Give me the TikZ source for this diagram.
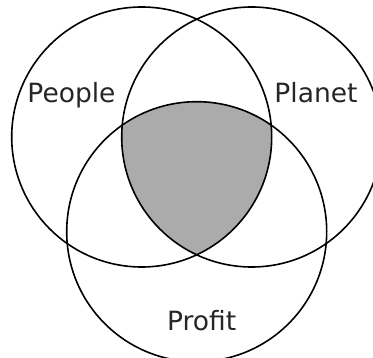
\documentclass[tikz,border=0pt]{standalone}
\usepackage{fontspec}
\setmainfont{DejaVu Sans}
\begin{document}
\begin{tikzpicture}[x=1pt,y=-1pt,
    ring/.style={circle, draw=black, line width=1.6pt, minimum size=260pt, inner sep=0pt},
    word/.style={text=black!85, font=\fontsize{26.5}{29}\selectfont}]
  \useasboundingbox (0,0) rectangle (373,358);

  % Shaded centre
  \begin{scope}
    \clip (141.7,137) circle (130);
    \clip (251.7,137) circle (130);
    \fill[black!33] (196.7,231.7) circle (130);
  \end{scope}

  % Nodes
  \node (people) at (141.7,137) [ring] {};
  \node (planet) at (251.7,137) [ring] {};
  \node (profit) at (196.7,231.7) [ring] {};

  \node (peopletext) at (71.5,102.7) [word, anchor=base] {People};
  \node (planettext) at (316,102.7) [word, anchor=base] {Planet};
  \node (profittext) at (201.7,330.7) [word, anchor=base] {Profit};
\end{tikzpicture}
\end{document}
